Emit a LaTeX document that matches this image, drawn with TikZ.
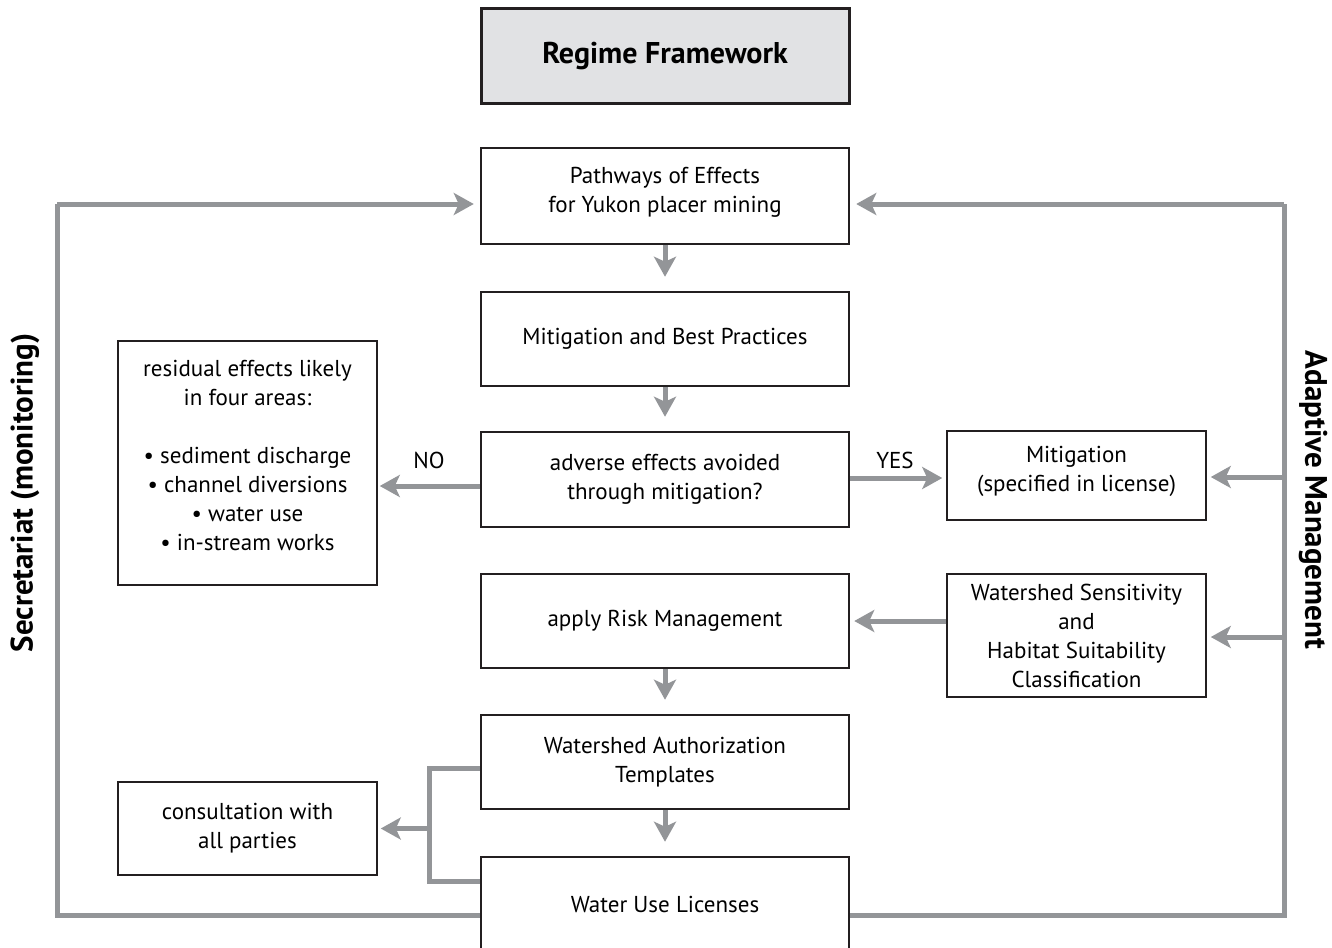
\documentclass[tikz,border=0pt]{standalone}
\usepackage{fontspec}
\setmainfont{PT Sans}
\usetikzlibrary{arrows.meta}
\definecolor{lgray}{HTML}{939598}
\definecolor{boxfill}{HTML}{E1E2E4}
\definecolor{ink}{HTML}{231F20}
\tikzset{
  mainbox/.style={draw=ink, line width=2.5pt, minimum width=368pt, align=center, inner sep=0pt, font=\fontsize{23}{29}\selectfont},
  sidebox/.style={draw=ink, line width=1.5pt, minimum width=259pt, align=center, inner sep=0pt, font=\fontsize{23}{29}\selectfont},
  plaintext/.style={align=center, inner sep=0pt, font=\fontsize{23}{29}\selectfont},
  arr/.style={draw=lgray, line width=5pt, -{Stealth[length=20pt, width=22pt, inset=5pt]}},
  gline/.style={draw=lgray, line width=5pt},
  lbl/.style={font=\fontsize{23}{26}\selectfont, inner sep=0pt},
  sidelbl/.style={font=\bfseries\fontsize{31}{34}\selectfont, inner sep=0pt}
}
\begin{document}
\begin{tikzpicture}[x=1pt, y=-1pt]
\useasboundingbox (0,0) rectangle (1332,947);
\clip (0,0) rectangle (1332,947);
% nodes
\node[mainbox, fill=boxfill, line width=3pt, minimum height=95pt, font=\bfseries\fontsize{30}{34}\selectfont] (rf) at (665,56.5) {Regime Framework};
\node[mainbox, minimum height=96pt] (pw) at (665,196) {};
\node[plaintext] (pwt) at (665,192) {Pathways of Effects\\for Yukon placer mining};
\node[mainbox, minimum height=94pt] (mb) at (665,339) {Mitigation and Best Practices};
\node[mainbox, minimum height=95pt] (ad) at (665,479.5) {adverse effects avoided\\through mitigation?};
\node[mainbox, minimum height=94pt] (rm) at (665,621) {apply Risk Management};
\node[mainbox, minimum height=94pt] (wa) at (665,762) {Watershed Authorization\\Templates};
\node[mainbox, minimum height=94pt] (wl) at (665,904) {Water Use Licenses};
\node[sidebox, minimum height=244pt] (res) at (247.5,463) {};
\node[plaintext] (rest) at (247.5,455) {residual effects likely\\in four areas:\\[29pt]• sediment discharge\\• channel diversions\\• water use\\• in-stream works};
\node[sidebox, minimum height=93pt] (con) at (247.5,828.5) {consultation with\\all parties};
\node[sidebox, minimum height=89pt] (mit) at (1076.5,475.5) {};
\node[plaintext] (mitt) at (1076.5,471.5) {Mitigation\\(specified in license)};
\node[sidebox, minimum height=123pt] (ws) at (1076.5,635.5) {Watershed Sensitivity\\and\\Habitat Suitability\\Classification};
% coordinates
\coordinate (lt) at (57,204);
\coordinate (lb) at (57,915);
\coordinate (rt) at (1284,204);
\coordinate (rb) at (1284,915);
\coordinate (rmit) at (1284,477);
\coordinate (rws) at (1284,637);
\coordinate (bt) at (429,768);
\coordinate (bm) at (429,828.5);
\coordinate (bb) at (429,881);
% vertical arrows
\draw[arr, shorten >=14pt] (pw.south) -- (mb.north);
\draw[arr, shorten >=14pt] (mb.south) -- (ad.north);
\draw[arr, shorten >=14pt] (rm.south) -- (wa.north);
\draw[arr, shorten >=14pt] (wa.south) -- (wl.north);
% NO / YES
\draw[arr, shorten >=2pt] ([yshift=-6.5pt]ad.west) -- ([yshift=-6.5pt]ad.west -| res.east);
\draw[arr, shorten >=4pt] ([yshift=-2.5pt]mit.west -| ad.east) -- ([yshift=-2.5pt]mit.west);
\node[lbl] (no) at (429,460) {NO};
\node[lbl] (yes) at (895,460) {YES};
% risk
\draw[arr, shorten >=4pt] (ws.west |- rm.east) -- (rm.east);
% loops
\draw[gline] (wl.west |- lb) -- (lb) -- (lt);
\draw[arr, shorten >=6pt] (lt) -- (lt -| pw.west);
\draw[gline] (wl.east |- rb) -- (rb) -- (rt);
\draw[arr, shorten >=6pt] (rt) -- (rt -| pw.east);
\draw[arr, shorten >=4pt] (rmit) -- (rmit -| mit.east);
\draw[arr, shorten >=4pt] (rws) -- (rws -| ws.east);
% consultation bracket
\draw[gline] (bt -| wa.west) -- (bt) -- (bb) -- (bb -| wl.west);
\draw[arr, shorten >=3pt] (bm) -- (con.east);
% side labels
\node[sidelbl, rotate=90] (sec) at (25,493) {Secretariat (monitoring)};
\node[sidelbl, rotate=-90] (am) at (1313,500) {Adaptive Management};
\end{tikzpicture}
\end{document}
